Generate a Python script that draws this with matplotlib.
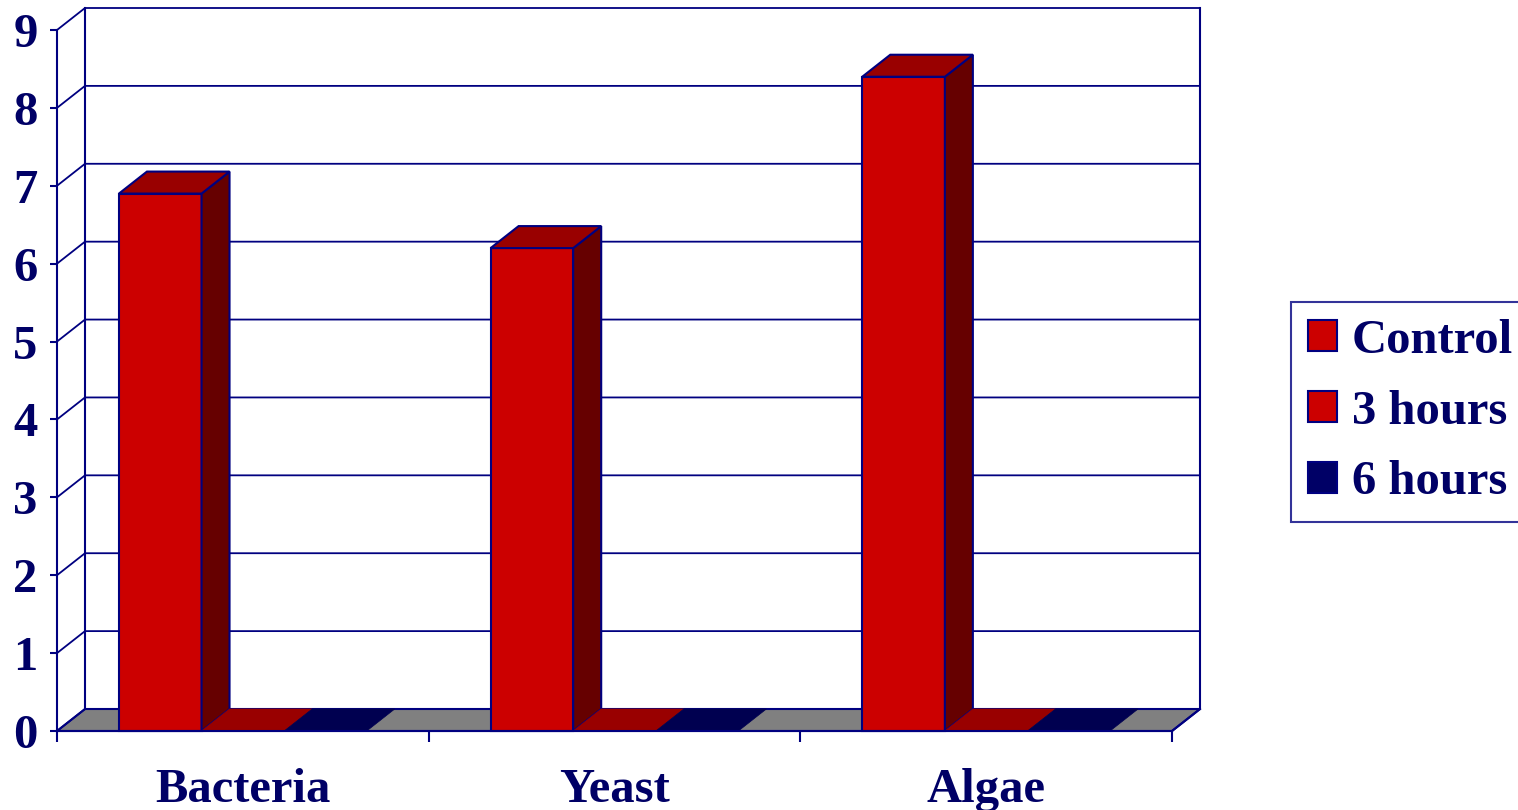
import matplotlib
matplotlib.use("Agg")
import matplotlib.pyplot as plt
from matplotlib.patches import Polygon, Patch

# datos
categories = ["Bacteria", "Yeast", "Algae"]
series = ["Control", "3 hours", "6 hours"]
control = [6.9, 6.2, 8.4]
hours3 = [0, 0, 0]
hours6 = [0, 0, 0]
values = [control, hours3, hours6]

# colores (frente, arriba, lado)
front_col = ["#cc0000", "#cc0000", "#000066"]
top_col = ["#990000", "#990000", "#000050"]
side_col = ["#660000", "#660000", "#000040"]
navy = "#000066"
edge = "#000080"

plt.rcParams['font.family'] = ['Liberation Serif', 'DejaVu Serif']
plt.rcParams['font.weight'] = 'bold'

fig = plt.figure(figsize=(15.18, 8.10), dpi=100)
W, H = 1518, 810
x_l, x_r = 57, 1172
y_0, y_9 = 731, 30
ax = fig.add_axes([x_l / W, (H - y_0) / H, (x_r - x_l) / W, (y_0 - y_9) / H])
ax.set_xlim(0, 3)
ax.set_ylim(0, 9)

# profundidad (px -> datos)
dx = 28 / (x_r - x_l) * 3
dy = 22 / (y_0 - y_9) * 9
nx = len(categories)
ymax = 9

# suelo
ax.add_patch(Polygon([(0, 0), (nx, 0), (nx + dx, dy), (dx, dy)], closed=True,
                     facecolor="#808080", edgecolor=edge, lw=1.5, clip_on=False, zorder=1))

# rejilla en pared trasera y lateral
for k in range(0, ymax + 1):
    ax.plot([0, dx, nx + dx], [k, k + dy, k + dy], color=edge, lw=1.3,
            clip_on=False, zorder=1.5)
ax.plot([dx, dx], [dy, ymax + dy], color=edge, lw=1.5, clip_on=False, zorder=1.5)
ax.plot([nx + dx, nx + dx], [dy, ymax + dy], color=edge, lw=1.5, clip_on=False, zorder=1.5)
ax.plot([nx, nx + dx], [0, dy], color=edge, lw=1.5, clip_on=False, zorder=1.5)

# barras 3D
w = 1 / 4.5
side = 0.75 * w
for i in range(nx):
    for j in range(len(series)):
        v = values[j][i]
        x0 = i + side + j * w
        top = [(x0, v), (x0 + w, v), (x0 + w + dx, v + dy), (x0 + dx, v + dy)]
        if v > 0:
            ax.add_patch(Polygon([(x0, 0), (x0 + w, 0), (x0 + w, v), (x0, v)],
                                 facecolor=front_col[j], edgecolor=edge, lw=1.5,
                                 clip_on=False, zorder=3))
            ax.add_patch(Polygon([(x0 + w, 0), (x0 + w + dx, dy), (x0 + w + dx, v + dy), (x0 + w, v)],
                                 facecolor=side_col[j], edgecolor=edge, lw=1.5,
                                 clip_on=False, zorder=3))
        ax.add_patch(Polygon(top, facecolor=top_col[j], edgecolor=edge if v > 0 else top_col[j],
                             lw=1.5 if v > 0 else 0.5, clip_on=False, zorder=3))

# ejes
for s in ["top", "right"]:
    ax.spines[s].set_visible(False)
for s in ["left", "bottom"]:
    ax.spines[s].set_color(edge)
    ax.spines[s].set_linewidth(1.5)
ax.spines["left"].set_zorder(4)
ax.spines["bottom"].set_zorder(4)
ax.patch.set_visible(False)

ax.set_yticks(range(0, ymax + 1))
ax.set_yticklabels([str(k) for k in range(0, ymax + 1)])
ax.tick_params(axis="y", direction="out", length=5, width=1.5, color=edge,
               labelsize=35, labelcolor=navy, pad=9)
ax.set_xticks(range(0, nx + 1))
ax.set_xticklabels([""] * (nx + 1))
ax.set_xticks([i + 0.5 for i in range(nx)], minor=True)
ax.set_xticklabels(categories, minor=True)
ax.tick_params(axis="x", which="major", direction="out", length=8, width=1.5, color=edge)
ax.tick_params(axis="x", which="minor", length=0, labelsize=35, labelcolor=navy, pad=27)

# leyenda
handles = [Patch(facecolor=front_col[j], edgecolor=edge, lw=1.5) for j in range(len(series))]
leg = fig.legend(handles, series, loc="upper left",
                 bbox_to_anchor=(1291 / W, 1 - 302 / H), borderaxespad=0,
                 fontsize=35, frameon=True, fancybox=False, handlelength=0.6,
                 handleheight=0.6, handletextpad=0.3, labelspacing=0.55,
                 borderpad=0.35, labelcolor=navy)
leg.get_frame().set_edgecolor(edge)
leg.get_frame().set_linewidth(1.5)

fig.savefig("out.png", dpi=100)
